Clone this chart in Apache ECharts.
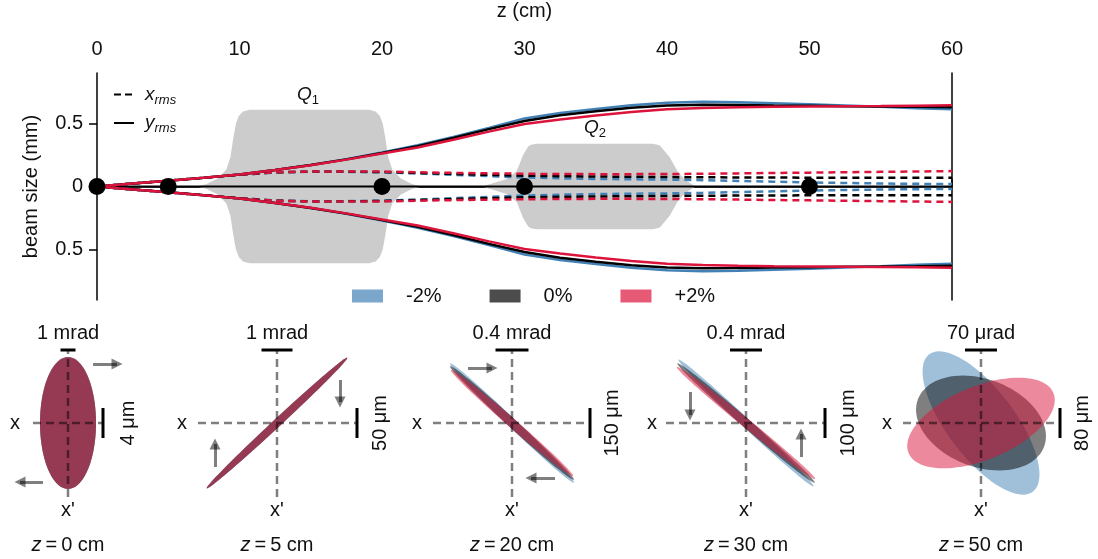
<!DOCTYPE html>
<html>
<head>
<meta charset="utf-8">
<script src="https://cdn.jsdelivr.net/npm/echarts@6/dist/echarts.min.js"></script>
<style>
  html, body { margin: 0; background: #fff; }
  #chart { width: 1098px; height: 559px; }
</style>
</head>
<body>
<div id="chart"></div>
<script>
const FONT = '"Liberation Sans", Arial, Helvetica, sans-serif';
const TXT = '#111';

// ---- beam envelope (z in cm, size in mm) ----
const zPos = [0, 2.5, 5, 7.5, 10, 12.5, 15, 17.5, 20, 22.5, 25, 27.5, 30, 32.5, 35, 37.5, 40, 42.5, 45, 47.5, 50, 52.5, 55, 57.5, 60];

const yRmsBlue  = [0, 0.023, 0.046, 0.069, 0.095, 0.13, 0.171, 0.217, 0.27, 0.327, 0.393, 0.465, 0.54, 0.583, 0.615, 0.645, 0.665, 0.672, 0.668, 0.661, 0.652, 0.643, 0.633, 0.621, 0.612];
const yRmsBlack = [0, 0.023, 0.046, 0.069, 0.095, 0.13, 0.17, 0.215, 0.265, 0.32, 0.385, 0.455, 0.52, 0.565, 0.597, 0.625, 0.642, 0.648, 0.647, 0.643, 0.64, 0.637, 0.635, 0.632, 0.628];
const yRmsRed   = [0, 0.023, 0.046, 0.069, 0.095, 0.13, 0.169, 0.213, 0.262, 0.31, 0.37, 0.435, 0.495, 0.532, 0.563, 0.59, 0.612, 0.623, 0.629, 0.632, 0.634, 0.636, 0.638, 0.641, 0.644];

const xRmsBlue  = [0, 0.023, 0.046, 0.069, 0.093, 0.111, 0.117, 0.116, 0.112, 0.103, 0.093, 0.082, 0.072, 0.065, 0.06, 0.057, 0.055, 0.05, 0.044, 0.038, 0.032, 0.028, 0.024, 0.021, 0.019];
const xRmsBlack = [0, 0.023, 0.046, 0.069, 0.093, 0.112, 0.118, 0.118, 0.115, 0.108, 0.1, 0.092, 0.086, 0.082, 0.079, 0.077, 0.075, 0.073, 0.072, 0.071, 0.07, 0.07, 0.07, 0.07, 0.07];
const xRmsRed   = [0, 0.023, 0.046, 0.069, 0.093, 0.113, 0.119, 0.12, 0.118, 0.113, 0.108, 0.104, 0.101, 0.099, 0.098, 0.098, 0.099, 0.101, 0.104, 0.107, 0.11, 0.113, 0.116, 0.119, 0.122];

// quadrupole field envelopes
const q1Z    = [7.0, 7.7, 8.5, 9.08, 9.36, 9.56, 9.75, 9.95, 10.25, 10.7, 19.1, 19.55, 19.85, 20.05, 20.24, 20.44, 20.72, 21.3, 22.1, 22.8];
const q1Half = [0, 0.02, 0.065, 0.135, 0.23, 0.38, 0.5, 0.56, 0.595, 0.608, 0.608, 0.595, 0.56, 0.5, 0.38, 0.23, 0.135, 0.065, 0.02, 0];
const q2Z    = [27.0, 27.6, 28.75, 29.45, 29.9, 30.27, 30.5, 30.9, 39.0, 39.25, 39.5, 40.2, 40.8, 41.3, 42.0];
const q2Half = [0, 0.02, 0.06, 0.12, 0.25, 0.32, 0.334, 0.338, 0.338, 0.334, 0.325, 0.23, 0.11, 0.05, 0];

// observation points
const obsZ = [0, 5, 20, 30, 50];

// ---- phase-space panels ----
const variants = ['-2%', '0%', '+2%'];
const variantColors = ['#4281b5', '#000000', '#dc143c'];
const ellipseFill = ['rgba(66,129,181,0.5)', 'rgba(0,0,0,0.5)', 'rgba(220,20,60,0.5)'];
const legendFill = ['rgba(66,129,181,0.7)', 'rgba(0,0,0,0.7)', 'rgba(220,20,60,0.7)'];

const panelZ = [0, 5, 20, 30, 50];
const angleScale = ['1 mrad', '1 mrad', '0.4 mrad', '0.4 mrad', '70 μrad'];
const posScale = ['4 μm', '50 μm', '150 μm', '100 μm', '80 μm'];
// ellipse semi-axes and tilt (deg) per panel, per variant (-2%, 0%, +2%)
const ellA    = [[66, 66, 66], [96, 96, 96], [86, 84, 81], [92.5, 91, 89], [86, 67.4, 78.4]];
const ellB    = [[28, 28, 28], [4, 4, 4], [4.5, 4.5, 4.5], [4.5, 4.5, 4.5], [34, 43.9, 36.7]];
const ellTilt = [[90, 90, 90], [42.9, 42.9, 42.9], [-43.9, -42.5, -41], [-43.2, -41, -39], [-53, -20.6, 22.5]];
// rotation arrows [x1, y1, x2, y2]
const arrows = [
  [[25, 59, 49, 59], [-25, -59, -48, -59]],
  [[63, 43, 63, 21], [-62, -44, -62, -21]],
  [[-44, 55, -20, 55], [43, -55, 19, -55]],
  [[-56, 31, -56, 8], [55, -34, 55, -11]],
  []
];

// panel layout
const panelCx = [68, 277, 512, 746, 981];
const crossHalf = [35, 79, 79, 80, 78];
const barHalf = [7.5, 15.5, 16.5, 16, 16];
const barX = [35, 80, 78, 79, 79];
const posLabelDx = [60, 103, 100, 102, 101];
const xLabelDx = [-53, -95, -95, -94, -94];

const pairs = (xs, ys, sign) => xs.map((x, i) => [x, sign * ys[i]]);

function ellipseItem(params, api) {
  const cx = api.value(0), cy = api.value(1);
  const a = api.value(2), b = api.value(3);
  const th = api.value(4) * Math.PI / 180;
  const ci = api.value(5);
  const pts = [];
  for (let k = 0; k < 90; k++) {
    const t = k / 90 * 2 * Math.PI;
    const ex = a * Math.cos(t), ey = b * Math.sin(t);
    pts.push(api.coord([cx + ex * Math.cos(th) - ey * Math.sin(th), cy + ex * Math.sin(th) + ey * Math.cos(th)]));
  }
  return { type: 'polygon', shape: { points: pts }, style: { fill: ellipseFill[ci] } };
}

const grids = [{ left: 97, right: 146, top: 70, height: 230 }];
const xAxes = [{
  type: 'value', position: 'top', min: 0, max: 60, interval: 10,
  name: 'z (cm)', nameLocation: 'middle', nameGap: 52,
  nameTextStyle: { fontSize: 20, fontFamily: FONT, color: TXT },
  axisLine: { lineStyle: { color: '#000', width: 1.5 } },
  axisTick: { length: 8, lineStyle: { color: '#000', width: 1.5 } },
  axisLabel: { margin: 14, fontSize: 20, fontFamily: FONT, color: TXT },
  splitLine: { show: false }
}];
const yAxes = [{
  type: 'value', min: -0.9, max: 0.9,
  name: 'beam size (mm)', nameLocation: 'middle', nameGap: 56,
  nameTextStyle: { fontSize: 20, fontFamily: FONT, color: TXT },
  axisLine: { show: true, lineStyle: { color: '#000', width: 1.5 } },
  axisTick: { show: true, length: 8, customValues: [-0.5, 0, 0.5], lineStyle: { color: '#000', width: 1.5 } },
  axisLabel: {
    margin: 14, fontSize: 20, fontFamily: FONT, color: TXT,
    customValues: [-0.5, 0, 0.5],
    formatter: v => String(Math.abs(v))
  },
  splitLine: { show: false }
}, {
  type: 'value', position: 'right', min: -0.9, max: 0.9,
  axisLine: { show: true, lineStyle: { color: '#000', width: 1.5 } },
  axisTick: { show: false }, axisLabel: { show: false }, splitLine: { show: false }
}];

const series = [];
const grayArea = (data) => ({
  type: 'line', data, symbol: 'none', silent: true, z: 1,
  lineStyle: { width: 0 }, areaStyle: { color: '#cccccc', opacity: 1 }
});
series.push(grayArea(pairs(q1Z, q1Half, 1)), grayArea(pairs(q1Z, q1Half, -1)));
series.push(grayArea(pairs(q2Z, q2Half, 1)), grayArea(pairs(q2Z, q2Half, -1)));

series.push({
  type: 'line', data: [[0, 0], [60, 0]], symbol: 'none', silent: true, z: 2,
  lineStyle: { color: '#000', width: 2 }
});

const yRms = [yRmsBlue, yRmsBlack, yRmsRed];
const xRms = [xRmsBlue, xRmsBlack, xRmsRed];
for (let v = 0; v < 3; v++) {
  for (const sign of [1, -1]) {
    series.push({
      type: 'line', data: pairs(zPos, xRms[v], sign), symbol: 'none', silent: true, z: 3,
      lineStyle: { color: variantColors[v], width: 2.5, type: [7, 5] }
    });
  }
}
for (let v = 0; v < 3; v++) {
  for (const sign of [1, -1]) {
    series.push({
      type: 'line', data: pairs(zPos, yRms[v], sign), symbol: 'none', silent: true, z: 3,
      lineStyle: { color: variantColors[v], width: 2.5 }
    });
  }
}
series.push({
  type: 'scatter', data: obsZ.map(z => [z, 0]), symbolSize: 17, silent: true, z: 5,
  itemStyle: { color: '#000', opacity: 1 }
});

// dummy series for legends
series.push({ name: 'xrms', type: 'line', data: [], symbol: 'none', itemStyle: { color: '#000' }, lineStyle: { color: '#000', width: 2.5, type: [7, 4] } });
series.push({ name: 'yrms', type: 'line', data: [], symbol: 'none', itemStyle: { color: '#000' }, lineStyle: { color: '#000', width: 2.5 } });
variants.forEach((name, v) => {
  series.push({ name, type: 'bar', data: [], itemStyle: { color: legendFill[v] } });
});

// bottom panels
const graphics = [];
panelZ.forEach((z, p) => {
  const half = p === 0 ? 68 : 100;
  grids.push({ left: panelCx[p] - half, width: 2 * half, top: 343, height: 160 });
  xAxes.push({ type: 'value', gridIndex: p + 1, min: -half, max: half, show: false });
  yAxes.push({ type: 'value', gridIndex: p + 1, min: -80, max: 80, show: false });
  const xi = p + 1, yi = p + 2;

  series.push({
    type: 'custom', xAxisIndex: xi, yAxisIndex: yi, clip: false, silent: true, z: 2,
    renderItem: ellipseItem,
    data: variants.map((_, v) => [0, 0, ellA[p][v], ellB[p][v], ellTilt[p][v], v])
  });
  const dashed = { color: 'rgba(0,0,0,0.5)', width: 2.5, type: [8, 5] };
  series.push({ type: 'line', xAxisIndex: xi, yAxisIndex: yi, symbol: 'none', silent: true, z: 3,
    data: [[-crossHalf[p], 0], [crossHalf[p], 0]], lineStyle: dashed });
  series.push({ type: 'line', xAxisIndex: xi, yAxisIndex: yi, symbol: 'none', silent: true, z: 3,
    data: [[0, -74], [0, 73]], lineStyle: dashed });
  const bar = { color: '#000', width: 3 };
  series.push({ type: 'line', xAxisIndex: xi, yAxisIndex: yi, symbol: 'none', silent: true, z: 4,
    data: [[-barHalf[p], 73], [barHalf[p], 73]], lineStyle: bar });
  series.push({ type: 'line', xAxisIndex: xi, yAxisIndex: yi, symbol: 'none', silent: true, z: 4,
    data: [[barX[p], -15], [barX[p], 15]], lineStyle: bar });
  if (arrows[p].length) {
    series.push({
      type: 'lines', coordinateSystem: 'cartesian2d', xAxisIndex: xi, yAxisIndex: yi, silent: true, z: 4,
      symbol: ['none', 'triangle'], symbolSize: 11,
      lineStyle: { color: 'rgba(0,0,0,0.5)', width: 3, opacity: 1 },
      data: arrows[p].map(a => ({ coords: [[a[0], a[1]], [a[2], a[3]]] }))
    });
  }

  const cx = panelCx[p];
  const base = { fontSize: 20, fontFamily: FONT, fill: TXT, align: 'center', verticalAlign: 'middle' };
  graphics.push({ type: 'text', x: cx, y: 333, style: Object.assign({ text: angleScale[p] }, base) });
  graphics.push({ type: 'text', x: cx + posLabelDx[p], y: 423, rotation: Math.PI / 2, style: Object.assign({ text: posScale[p] }, base) });
  graphics.push({ type: 'text', x: cx + xLabelDx[p], y: 423, style: Object.assign({ text: 'x' }, base) });
  graphics.push({ type: 'text', x: cx, y: 510, style: Object.assign({ text: "x'" }, base) });
  graphics.push({
    type: 'text', x: cx, y: 545,
    style: Object.assign({}, base, {
      text: '{i|z}{n|\u2009=\u2009' + z + ' cm}',
      rich: { i: { fontStyle: 'italic', fontSize: 20, fontFamily: FONT, fill: TXT }, n: { fontSize: 20, fontFamily: FONT, fill: TXT } }
    })
  });
});

const subRich = {
  i: { fontStyle: 'italic', fontSize: 19, fontFamily: FONT, color: TXT, fill: TXT, lineHeight: 24, verticalAlign: 'middle' },
  s: { fontStyle: 'italic', fontSize: 13, fontFamily: FONT, color: TXT, fill: TXT, lineHeight: 12, verticalAlign: 'bottom' },
  n: { fontSize: 13, fontFamily: FONT, color: TXT, fill: TXT, lineHeight: 12, verticalAlign: 'bottom' }
};
graphics.push({ type: 'text', x: 308, y: 95, style: { text: '{i|Q}{n|1}', rich: subRich, align: 'center', verticalAlign: 'middle' } });
graphics.push({ type: 'text', x: 595, y: 128, style: { text: '{i|Q}{n|2}', rich: subRich, align: 'center', verticalAlign: 'middle' } });

const chart = echarts.init(document.getElementById('chart'));
chart.setOption({
  animation: false,
  backgroundColor: '#fff',
  grid: grids,
  xAxis: xAxes,
  yAxis: yAxes,
  legend: [{
    data: ['xrms', 'yrms'], orient: 'vertical', left: 113, top: 85, padding: 0,
    itemWidth: 20, itemHeight: 14, itemGap: 7, selectedMode: false,
    itemStyle: { opacity: 0 },
    formatter: n => n === 'xrms' ? '{i|x}{s|rms}' : '{i|y}{s|rms}',
    textStyle: { padding: [0, 0, 0, 6], rich: subRich }
  }, {
    data: variants, left: 352, top: 286, padding: 0, icon: 'rect',
    itemWidth: 31, itemHeight: 13, itemGap: 48, selectedMode: false,
    textStyle: { fontSize: 20, fontFamily: FONT, color: TXT, width: 40, padding: [0, 0, 0, 18] }
  }],
  graphic: graphics,
  series
});
</script>
</body>
</html>
